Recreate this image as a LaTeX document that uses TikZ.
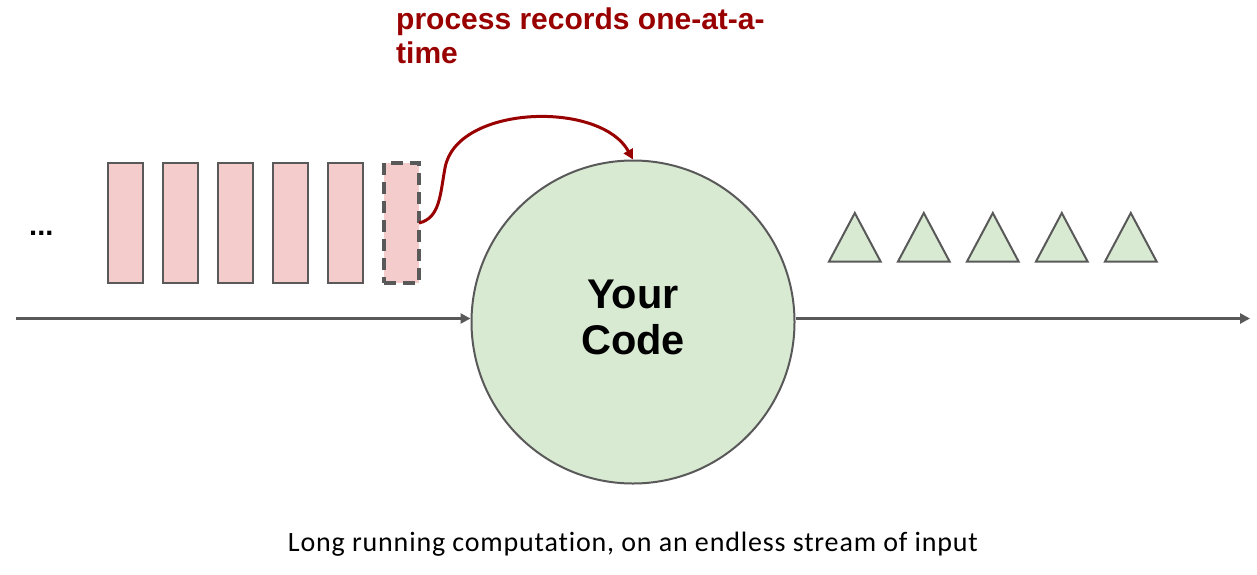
\documentclass[tikz,border=0pt]{standalone}
\usepackage{fontspec}
\setmainfont{Liberation Sans}
\newfontfamily\capfont[Ligatures=NoCommon,LetterSpace=3]{Carlito}
\usetikzlibrary{arrows.meta}
\definecolor{recfill}{HTML}{F4CCCC}
\definecolor{codefill}{HTML}{D9EAD3}
\definecolor{edgegray}{HTML}{595959}
\definecolor{darkred}{HTML}{990000}
\tikzset{
  rec/.style={draw=edgegray, fill=recfill, line width=2.2pt, minimum width=35pt, minimum height=120pt, inner sep=0pt, outer sep=0pt},
  currec/.style={rec, line width=3.2pt, dash pattern=on 12pt off 7pt},
  tri/.style={draw=edgegray, fill=codefill, line width=2pt, line join=miter},
  flow/.style={draw=edgegray, line width=3pt, -{Triangle[length=10pt,width=10pt]}},
  pick/.style={draw=darkred, line width=3pt, -{Triangle[length=10pt,width=10pt]}},
}
\begin{document}
\begin{tikzpicture}[x=1pt,y=-1pt]
\useasboundingbox (0,0) rectangle (1257,574);
% records
\node[rec] (r1) at (125.5,223) {};
\node[rec] (r2) at (180.5,223) {};
\node[rec] (r3) at (235.5,223) {};
\node[rec] (r4) at (290.5,223) {};
\node[rec] (r5) at (345.5,223) {};
\node[currec] (r6) at (401.5,223) {};
\node[anchor=base west, inner sep=0pt, font=\fontsize{29}{32}\selectfont\bfseries] (dots) at (29,235.5) {...};
% code
\node[circle, draw=edgegray, fill=codefill, line width=2pt, minimum size=323pt, inner sep=0pt] (c) at (633,322) {};
\node[inner sep=0pt, align=center, font=\fontsize{41.5}{46.7}\selectfont\bfseries] (ctext) at (633,317.5) {Your\\Code};
% results
\foreach \x [count=\i] in {829,898,967,1036,1105}{
  \draw[tri] (\x,261.5) -- (\x+25.8,213) -- (\x+51.6,261.5) -- cycle;
}
% stream arrows
\coordinate (in) at (16,318.5);
\coordinate (out) at (1250,318.5);
\draw[flow] (in) -- (in -| c.west);
\draw[flow] (c.east |- out) -- (out);
% pick arrow
\draw[pick] (r6.east) .. controls (440,218) and (440,195) .. (445,168)
  .. controls (456,105) and (600,100) .. (c.north);
\node[anchor=north west, inner sep=0pt, align=left, text=darkred,
      font=\fontsize{30}{34.5}\selectfont\bfseries] (lbl) at (396,7.5) {process records one-at-a-\\time};
% caption
\node[anchor=base, inner sep=0pt, font=\capfont\fontsize{28}{32}\selectfont] (cap) at (633,551)
  {Long running computation, on an endless stream of input};
\end{tikzpicture}
\end{document}
